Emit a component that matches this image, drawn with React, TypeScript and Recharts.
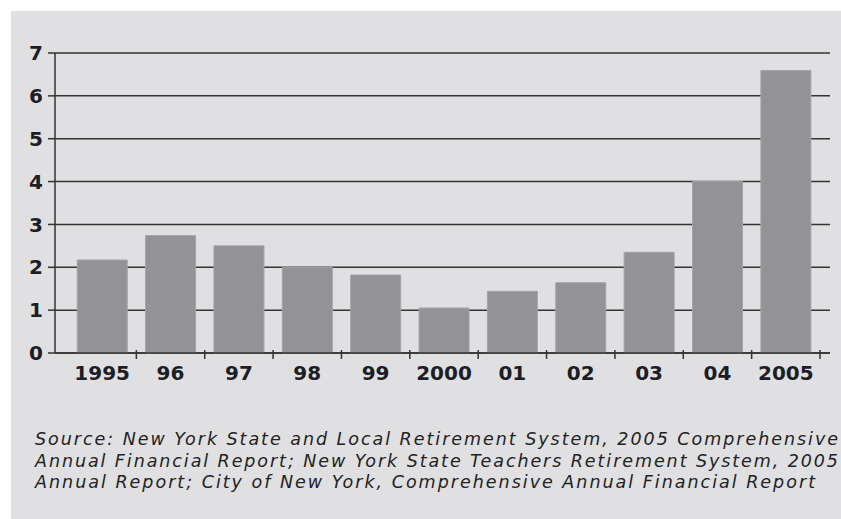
import React from 'react';
import { BarChart, Bar, XAxis, YAxis, CartesianGrid } from 'recharts';

const years = ['1995', '96', '97', '98', '99', '2000', '01', '02', '03', '04', '2005'];
const values = [2.17, 2.74, 2.5, 2.0, 1.82, 1.05, 1.44, 1.64, 2.35, 4.0, 6.59];
const yTicks = [0, 1, 2, 3, 4, 5, 6, 7];
const sourceLines = [
  'Source: New York State and Local Retirement System, 2005 Comprehensive',
  'Annual Financial Report; New York State Teachers Retirement System, 2005',
  'Annual Report; City of New York, Comprehensive Annual Financial Report',
];

const data = years.map((year, i) => ({ year, value: values[i] }));

const W = 841;
const H = 400;
const M = { top: 53, right: 11, left: 0, bottom: 17 };
const PAD = { left: 13, right: 10 };
const plotW = W - M.right - 55;
const band = (plotW - PAD.left - PAD.right) / years.length;

const tickFont = "'DejaVu Sans', sans-serif";
const ink = '#1d1d26';
const line = '#333333';

// label under the band, tick mark on the band's right edge
const XTick = (props: any) => {
  const { x, y, payload } = props;
  return (
    <g>
      <line x1={x + band / 2} x2={x + band / 2} y1={y - 3} y2={y + 6} stroke={line} strokeWidth={1.5} />
      <text x={x} y={y + 27} textAnchor="middle" fontFamily={tickFont} fontWeight="bold" fontSize={20} fill={ink}>
        {payload.value}
      </text>
    </g>
  );
};

const App: React.FC = () => {
  return (
    <div style={{ position: 'absolute', left: 0, top: 0, width: 841, height: 519, background: '#fff' }}>
      <div style={{ position: 'absolute', left: 11, top: 11, right: 0, bottom: 0, background: '#e0e0e2' }} />
      <div style={{ position: 'absolute', left: 0, top: 0 }}>
        <BarChart width={W} height={H} data={data} margin={M} barCategoryGap="13.5%">
          <CartesianGrid vertical={false} stroke={line} strokeWidth={1.5} yAxisId="l" />
          <XAxis
            dataKey="year"
            padding={PAD}
            tickLine={false}
            tickSize={0}
            tickMargin={0}
            height={30}
            axisLine={{ stroke: line, strokeWidth: 1.5 }}
            tick={<XTick />}
            interval={0}
          />
          <YAxis
            yAxisId="l"
            domain={[0, 7]}
            ticks={yTicks}
            width={55}
            tickSize={7}
            tickMargin={5}
            axisLine={{ stroke: line, strokeWidth: 1.5 }}
            tickLine={{ stroke: line, strokeWidth: 1.5 }}
            tick={{ fontFamily: tickFont, fontWeight: 'bold', fontSize: 20, fill: ink }}
          />
          <YAxis
            yAxisId="r"
            orientation="right"
            domain={[0, 7]}
            width={0}
            tick={false}
            tickLine={false}
            axisLine={{ stroke: line, strokeWidth: 1.5 }}
          />
          <Bar yAxisId="l" dataKey="value" fill="#939396" stroke="#a4a4a7" strokeWidth={1} isAnimationActive={false} />
        </BarChart>
      </div>
      <svg width={841} height={519} style={{ position: 'absolute', left: 0, top: 0 }}>
        {sourceLines.map((t, i) => (
          <text
            key={i}
            x={35}
            y={445 + i * 21.5}
            fontFamily="'DejaVu Sans', sans-serif"
            fontStyle="italic"
            fontSize={17.5}
            fill="#222"
            textLength={i === 2 ? 780 : 803}
            lengthAdjust="spacing"
          >
            {t}
          </text>
        ))}
      </svg>
    </div>
  );
};

export default App;
